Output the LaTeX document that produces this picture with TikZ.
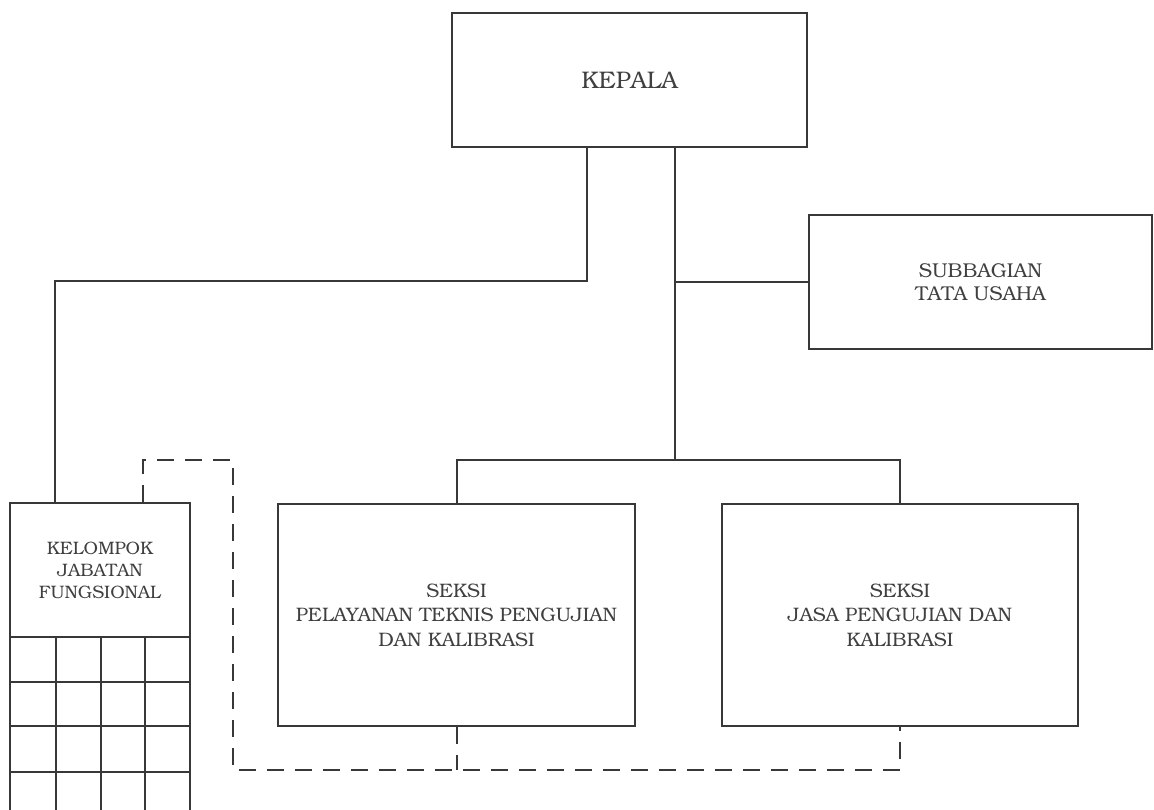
\documentclass[tikz,border=0pt]{standalone}
\usepackage[T1]{fontenc}
\usepackage{bookman}
\definecolor{ink}{HTML}{383838}
\definecolor{txt}{HTML}{404040}
\tikzset{
  unit/.style={draw=ink, line width=2pt, rectangle, align=center, text=txt, inner sep=0pt},
  link/.style={draw=ink, line width=2pt},
  dlink/.style={draw=ink, line width=2pt, dash pattern=on 17pt off 11pt},
}
\begin{document}
\begin{tikzpicture}[x=1pt,y=-1pt]
\useasboundingbox (0,0) rectangle (1154,810);

% units
\node[unit, minimum width=355pt, minimum height=134pt, font=\fontsize{24}{28}\selectfont] (kepala) at (629.5,80) {KEPALA};
\node[unit, minimum width=343pt, minimum height=134pt, font=\fontsize{20}{23.5}\selectfont] (subbag) at (980.5,282) {SUBBAGIAN\\TATA USAHA};
\node[unit, minimum width=357pt, minimum height=222pt, font=\fontsize{19.5}{24.5}\selectfont] (seksi1) at (456.5,615) {SEKSI\\PELAYANAN TEKNIS PENGUJIAN\\DAN KALIBRASI};
\node[unit, minimum width=356pt, minimum height=222pt, font=\fontsize{19.5}{24.5}\selectfont] (seksi2) at (900,615) {SEKSI\\JASA PENGUJIAN DAN\\KALIBRASI};
\node[unit, minimum width=180pt, minimum height=134pt, font=\fontsize{18}{22}\selectfont] (kjf) at (100,570) {KELOMPOK\\JABATAN\\FUNGSIONAL};

% grid of functional posts below the group header
\foreach \yy in {682,726,772} \draw[link] (10,\yy) -- (190,\yy);
\foreach \xx in {10,56,101,145,190} \draw[link] (\xx,637) -- (\xx,815);

% command lines
\coordinate (bus) at (675,460);
\coordinate (kl) at (587,281);
\draw[link] (kepala.south -| bus) -- (bus);
\draw[link] (seksi1.north) |- (bus) -| (seksi2.north);
\draw[link] (subbag.west) -- (subbag.west -| bus);
\draw[link] (kepala.south -| kl) -- (kl) -| ([xshift=-45]kjf.north);

% coordination lines
\coordinate (d1) at (233,460);
\coordinate (d2) at (233,770);
\draw[dlink] ([xshift=43]kjf.north) |- (d1) -- (d2) -| (seksi2.south);
\draw[dlink] (seksi1.south) -- (seksi1.south |- d2);
\end{tikzpicture}
\end{document}
